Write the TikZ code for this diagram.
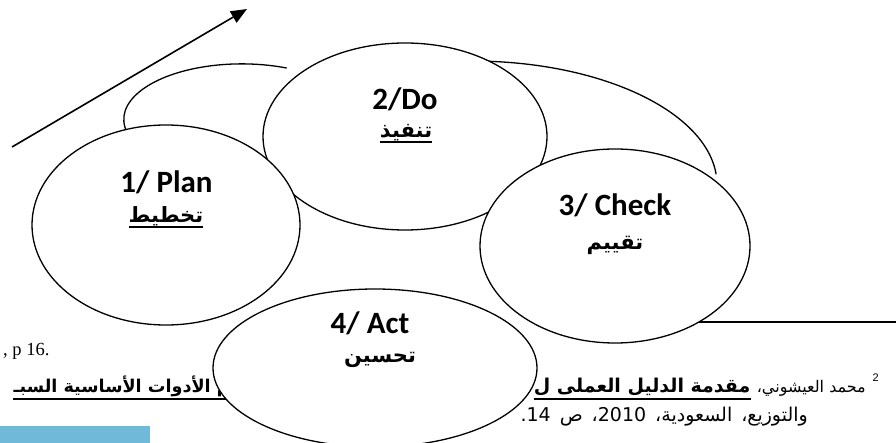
\documentclass[tikz,border=0pt]{standalone}
\usepackage{fontspec}
\setmainfont{Carlito}
\newfontfamily\arabicfont[Script=Arabic]{DejaVu Sans}
\newfontfamily\serfont{Liberation Serif}
\newfontfamily\arialfont{Liberation Sans}
\TeXXeTstate=1
\usetikzlibrary{arrows.meta,shapes.geometric}
\definecolor{boxblue}{RGB}{112,185,217}
\begin{document}
\begin{tikzpicture}[x=1pt,y=-1pt,
  oval/.style={ellipse, draw, fill=white, line width=1.3pt, inner sep=0pt},
  lbl/.style={font=\fontsize{31}{33}\selectfont\bfseries, inner sep=0pt},
  albl/.style={font=\arabicfont\fontsize{21}{24}\selectfont\bfseries, inner sep=0pt},
  fn/.style={font=\arabicfont\fontsize{16}{20}\selectfont, inner sep=0pt},
  fntwo/.style={font=\arabicfont\fontsize{19}{22}\selectfont, inner sep=0pt},
  fnb/.style={font=\arabicfont\fontsize{19}{22}\selectfont\bfseries, inner sep=0pt},
  fnbl/.style={font=\arabicfont\fontsize{17.6}{22}\selectfont\bfseries, inner sep=0pt},
  backarc/.style={line width=1.3pt},
  uline/.style={line width=1.7pt}
]
\useasboundingbox (0,0) rectangle (896,443);
\clip (0,0) rectangle (896,443);

% arrow
\coordinate (arrS) at (12,147);
\coordinate (arrE) at (247,9);
\draw[line width=1.6pt, -{Triangle[length=16pt,width=13pt]}] (arrS) -- (arrE);

% background arcs
\draw[backarc] (127.3,132.8) arc[start angle=194, end angle=67.6, x radius=118pt, y radius=55.5pt];
\draw[backarc] (480.6,61.1) arc[start angle=88, end angle=5, x radius=245pt, y radius=124pt];

% footnote rule
\coordinate (r1) at (640,322);
\coordinate (r2) at (896,322);
\draw[line width=1.3pt] (r1) -- (r2);

% footnote texts
\node[font=\serfont\fontsize{18.5}{20}\selectfont, inner sep=0pt, anchor=base west] (pg) at (3,355) {, p 16.};
\node[font=\arialfont\fontsize{11}{12}\selectfont, inner sep=0pt, anchor=base east] (sup2) at (879,381) {2};
\node[fn, anchor=base east] (author) at (866,392) {\beginR محمد العيشوني،\endR};
\node[fnb, anchor=base east] (title) at ([xshift=-6pt]author.base west) {\beginR مقدمة الدليل العملى ل\endR};
\draw[uline] ([yshift=-7pt]title.base west) -- ([yshift=-7pt]title.base east);
\node[fnbl, anchor=base east] (titleL) at (236,392) {\beginR ام الأدوات الأساسية السبـ\endR};
\draw[uline] ([yshift=-7pt]titleL.base west) -- ([yshift=-7pt]titleL.base east);
\node[fntwo, anchor=base east] (line2) at (808,421) {\spaceskip=9pt\beginR والتوزيع، السعودية، 2010، ص 14.\endR};

% blue bar
\node[fill=boxblue, inner sep=0pt, minimum width=150pt, minimum height=20pt, anchor=north west] (bluebar) at (0,426) {};

% ellipses
\node[oval, minimum width=324pt, minimum height=158pt] (act) at (375,368) {};
\node[oval, minimum width=284pt, minimum height=187pt] (do) at (405,136.5) {};
\node[oval, minimum width=270pt, minimum height=194pt] (check) at (615,246) {};
\node[oval, minimum width=268pt, minimum height=200pt] (plan) at (166,225) {};

% labels
\node[lbl, anchor=base] (planT) at (166.5,193) {1/ Plan};
\node[albl, anchor=base] (planA) at (166,223) {\beginR تخطيط\endR};
\draw[uline] ([yshift=-4pt]planA.base west) -- ([yshift=-4pt]planA.base east);
\node[lbl, anchor=base] (doT) at (405,110) {2/Do};
\node[albl, anchor=base] (doA) at (406,138) {\beginR تنفيذ\endR};
\draw[uline] ([yshift=-4pt]doA.base west) -- ([yshift=-4pt]doA.base east);
\node[lbl, anchor=base] (checkT) at (615,216) {3/ Check};
\node[albl, anchor=base] (checkA) at (615,250) {\beginR تقييم\endR};
\node[lbl, anchor=base] (actT) at (370,333) {4/ Act};
\node[albl, anchor=base] (actA) at (380,362) {\beginR تحسين\endR};
\end{tikzpicture}
\end{document}
